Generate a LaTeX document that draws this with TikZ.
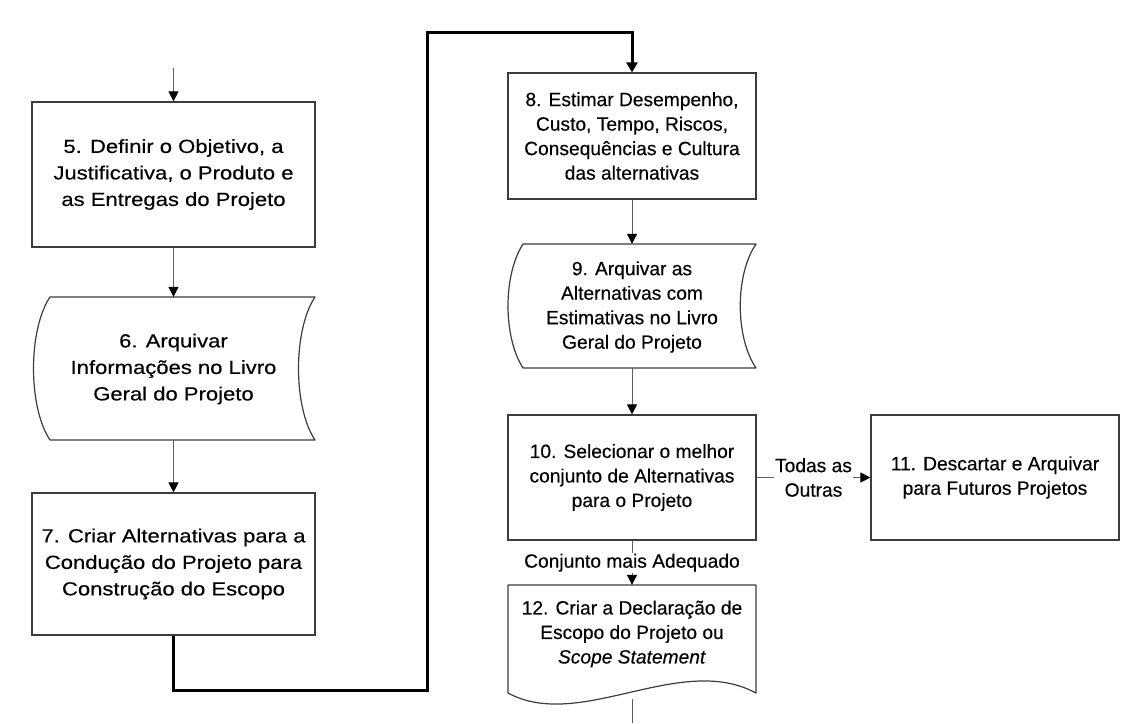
\documentclass[tikz,border=0pt]{standalone}
\usepackage{fontspec}
\setmainfont{Liberation Sans}[FakeBold=0.3]
\newfontfamily\leftfont{Liberation Sans}[FakeStretch=1.16,FakeBold=0.3]
\usetikzlibrary{arrows.meta}
\definecolor{bordergray}{RGB}{60,60,60}
\definecolor{linegray}{RGB}{95,95,95}
\tikzset{
  lfont/.style={font=\leftfont\fontsize{19}{26.5}\selectfont},
  rfont/.style={font=\fontsize{19.2}{24.5}\selectfont},
  lbox/.style={draw=bordergray, line width=1.2pt, minimum width=283pt, align=center, lfont, inner sep=0pt},
  rbox/.style={draw=bordergray, line width=1.2pt, minimum width=248pt, align=center, rfont, inner sep=0pt},
  holder/.style={inner sep=0pt, draw=none},
  shapeline/.style={draw=bordergray, line width=1.2pt, line join=round},
  arr/.style={draw=linegray, line width=1pt, -{Triangle[length=10pt,width=10pt,color=black]}},
  thickarr/.style={draw=black, line width=3pt, -{Triangle[length=10pt,width=11pt]}},
  lbl/.style={rfont, align=center, fill=white, inner sep=1pt}
}
\begin{document}
\begin{tikzpicture}[x=1pt,y=-1pt]
\useasboundingbox (0,0) rectangle (1134,723);

% left column
\coordinate (start) at (173.5,68);
\node[lbox, minimum height=145pt] (s5) at (173.5,174.5) {5. Definir o Objetivo, a\\Justificativa, o Produto e\\as Entregas do Projeto};

\node[holder, minimum width=283pt, minimum height=143pt] (s6) at (173.5,368.5) {};
\draw[shapeline] (50,297) -- (315,297) .. controls (293,330) and (293,407) .. (315,440)
  -- (50,440) .. controls (28,407) and (28,330) .. (50,297) -- cycle;
\node[lfont, align=center] (t6) at (173.5,369) {6. Arquivar\\Informações no Livro\\Geral do Projeto};

\node[lbox, minimum height=142pt] (s7) at (173.5,564) {7. Criar Alternativas para a\\Condução do Projeto para\\Construção do Escopo};

% right column
\node[rbox, minimum height=126pt] (s8) at (632,136) {8. Estimar Desempenho,\\Custo, Tempo, Riscos,\\Consequências e Cultura\\das alternativas};

\node[holder, minimum width=248pt, minimum height=124pt] (s9) at (632,306) {};
\draw[shapeline] (523,244) -- (756,244) .. controls (735,275) and (735,337) .. (756,368)
  -- (523,368) .. controls (503,337) and (503,275) .. (523,244) -- cycle;
\node[rfont, align=center] (t9) at (632,307) {9. Arquivar as\\Alternativas com\\Estimativas no Livro\\Geral do Projeto};

\node[rbox, minimum height=125pt] (s10) at (632,477.5) {10. Selecionar o melhor\\conjunto de Alternativas\\para o Projeto};

\node[rbox, minimum height=125pt] (s11) at (995,477.5) {11. Descartar e Arquivar\\para Futuros Projetos};

\node[holder, minimum width=248pt, minimum height=108pt] (s12) at (632,639) {};
\draw[shapeline] (508,585) -- (756,585) -- (756,693) .. controls (680,652) and (580,732) .. (508,693) -- cycle;
\node[rfont, align=center] (t12) at (632,634) {12. Criar a Declaração de\\Escopo do Projeto ou\\\textit{Scope Statement}};
\coordinate (s12out) at (632,699);
\coordinate (endpt) at (632,723);

% connectors
\draw[arr] (start) -- (s5.north);
\draw[arr] (s5.south) -- (s6.north);
\draw[arr] (s6.south) -- (s7.north);
\coordinate (ca) at (427,690);
\coordinate (cb) at (427,32);
\draw[thickarr] (s7.south) |- (ca) -- (cb) -| (s8.north);
\draw[arr] (s8.south) -- (s9.north);
\draw[arr] (s9.south) -- (s10.north);
\draw[arr] (s10.east) -- node[lbl] {Todas as\\Outras} (s11.west);
\draw[arr] (s10.south) -- node[lbl] {Conjunto mais Adequado} (s12.north);
\draw[draw=linegray, line width=1pt] (s12out) -- (endpt);
\end{tikzpicture}
\end{document}
